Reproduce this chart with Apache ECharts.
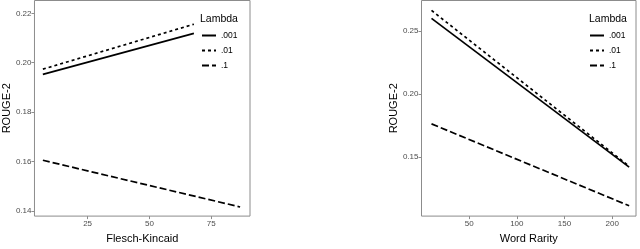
<!DOCTYPE html>
<html>
<head>
<meta charset="utf-8">
<script src="https://cdn.jsdelivr.net/npm/echarts@6/dist/echarts.min.js"></script>
<style>html,body{margin:0;padding:0;background:#fff}#c{width:640px;height:249px}</style>
</head>
<body>
<div id="c"></div>
<script>
// Panel 1: Flesch-Kincaid
const fkX = [6.9, 68];
const fkX1 = [6.9, 86.7];
const fk001 = [0.1953, 0.2119];
const fk01 = [0.1974, 0.2156];
const fk1 = [0.1605, 0.1416];
const fkXTicks = [25, 50, 75];
const fkYTicks = [0.14, 0.16, 0.18, 0.20, 0.22];

// Panel 2: Word Rarity
const wrX = [10.5, 217.8];
const wr001 = [0.2602, 0.1418];
const wr01 = [0.2665, 0.1425];
const wr1 = [0.1762, 0.111];
const wrXTicks = [50, 100, 150, 200];
const wrYTicks = [0.15, 0.20, 0.25];

const lambdas = ['.001', '.01', '.1'];

const FONT = 'Liberation Sans';
const GRAY = '#4d4d4d';
const BORDER = '#8c8c8c';

function pairs(xs, ys) { return xs.map((x, i) => [x, ys[i]]); }

function xAxis(gi, min, max, ticks, name) {
  return {
    type: 'value', gridIndex: gi, min: min, max: max,
    name: name, nameLocation: 'middle', nameGap: 15,
    nameTextStyle: {fontFamily: FONT, fontSize: 11, color: '#000'},
    axisLine: {show: false},
    axisTick: {show: true, length: 3, lineStyle: {color: BORDER}, customValues: ticks},
    axisLabel: {fontFamily: FONT, fontSize: 8, color: GRAY, margin: 4, customValues: ticks,
      formatter: v => String(v)},
    splitLine: {show: false}
  };
}
function yAxis(gi, min, max, ticks) {
  return {
    type: 'value', gridIndex: gi, min: min, max: max,
    name: 'ROUGE-2', nameLocation: 'middle', nameGap: 22,
    nameTextStyle: {fontFamily: FONT, fontSize: 11, color: '#000'},
    axisLine: {show: false},
    axisTick: {show: true, length: 3, lineStyle: {color: BORDER}, customValues: ticks},
    axisLabel: {fontFamily: FONT, fontSize: 8, color: GRAY, margin: 3, customValues: ticks,
      formatter: v => v.toFixed(2)},
    splitLine: {show: false}
  };
}
const styles = [
  {type: 'solid'},
  {type: [3, 3]},
  {type: [7, 3]}
];
function line(name, xi, data, si) {
  return {
    type: 'line', name: name, xAxisIndex: xi, yAxisIndex: xi, data: data,
    symbol: 'none', showSymbol: false, animation: false, color: '#000',
    itemStyle: {color: '#000'},
    lineStyle: Object.assign({color: '#000', width: 1.7}, styles[si])
  };
}
function legend(left) {
  return {
    orient: 'vertical', left: left, top: 31, padding: 0, data: lambdas,
    itemWidth: 14, itemHeight: 10, itemGap: 6,
    itemStyle: {opacity: 0},
    lineStyle: {width: 2},
    textStyle: {fontFamily: FONT, fontSize: 8.5, color: '#000'},
    selectedMode: false
  };
}

const chart = echarts.init(document.getElementById('c'), null, {renderer: 'canvas'});
chart.setOption({
  animation: false,
  color: ['#000'],
  grid: [
    {left: 32, top: 0.5, width: 218, height: 224.5, show: true, borderColor: BORDER, borderWidth: 1},
    {left: 421.5, top: 0.5, width: 214.5, height: 224.5, show: true, borderColor: BORDER, borderWidth: 1}
  ],
  xAxis: [
    xAxis(0, 3.5, 90.7, fkXTicks, 'Flesch-Kincaid'),
    xAxis(1, 0, 225, wrXTicks, 'Word Rarity')
  ],
  yAxis: [
    yAxis(0, 0.1379, 0.2252, fkYTicks),
    yAxis(1, 0.1028, 0.2744, wrYTicks)
  ],
  legend: [legend(201), legend(589)],
  graphic: [
    {type: 'text', left: 200, top: 14, style: {text: 'Lambda', font: '10.5px "Liberation Sans"', fill: '#000'}},
    {type: 'text', left: 589, top: 14, style: {text: 'Lambda', font: '10.5px "Liberation Sans"', fill: '#000'}}
  ],
  series: [
    line(lambdas[0], 0, pairs(fkX, fk001), 0),
    line(lambdas[1], 0, pairs(fkX, fk01), 1),
    line(lambdas[2], 0, pairs(fkX1, fk1), 2),
    line(lambdas[0], 1, pairs(wrX, wr001), 0),
    line(lambdas[1], 1, pairs(wrX, wr01), 1),
    line(lambdas[2], 1, pairs(wrX, wr1), 2)
  ]
});
</script>
</body>
</html>
